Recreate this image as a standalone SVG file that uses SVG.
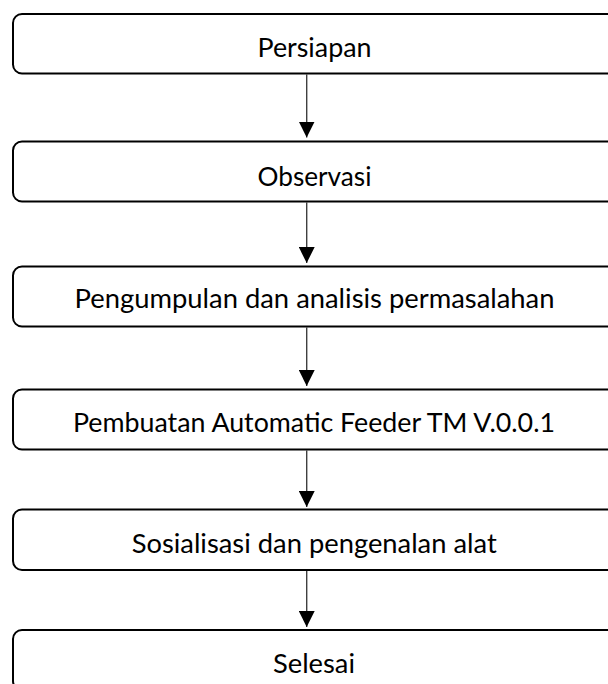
<svg xmlns="http://www.w3.org/2000/svg" width="608" height="684" viewBox="0 0 608 684">
  <defs>
    <marker id="arrow" viewBox="0 0 16 16" refX="16" refY="8" markerWidth="16" markerHeight="16" markerUnits="userSpaceOnUse" orient="auto">
      <path d="M0,0 L16,8 L0,16 Z" fill="#000"/>
    </marker>
  </defs>
  <style>
    .box { fill: #fff; stroke: #000; stroke-width: 2; }
    .label { font-family: "Lato", "Open Sans", "Liberation Sans", sans-serif; font-size: 26.5px; fill: #000; text-anchor: middle; }
    .conn { stroke: #404040; stroke-width: 1.4; fill: none; marker-end: url(#arrow); }
  </style>
  <rect width="608" height="684" fill="#fff"/>
  <g id="connectors">
    <line class="conn" x1="306.7" y1="74.5" x2="306.7" y2="137.5"/>
    <line class="conn" x1="306.7" y1="202.5" x2="306.7" y2="263"/>
    <line class="conn" x1="306.7" y1="327.5" x2="306.7" y2="386"/>
    <line class="conn" x1="306.7" y1="450.5" x2="306.7" y2="507"/>
    <line class="conn" x1="306.7" y1="571" x2="306.7" y2="627"/>
  </g>
  <g id="node-persiapan">
    <rect class="box" x="13" y="14" width="620" height="59.5" rx="9"/>
    <text class="label" x="314.5" y="57.3" textLength="114" lengthAdjust="spacingAndGlyphs">Persiapan</text>
  </g>
  <g id="node-observasi">
    <rect class="box" x="13" y="141.5" width="620" height="60" rx="9"/>
    <text class="label" x="314.5" y="185.5" textLength="114" lengthAdjust="spacingAndGlyphs">Observasi</text>
  </g>
  <g id="node-pengumpulan">
    <rect class="box" x="13" y="266.5" width="620" height="60" rx="9"/>
    <text class="label" x="314.5" y="307.5" textLength="480" lengthAdjust="spacingAndGlyphs">Pengumpulan dan analisis permasalahan</text>
  </g>
  <g id="node-pembuatan">
    <rect class="box" x="13" y="389.5" width="620" height="60" rx="9"/>
    <text class="label" x="314" y="431.7" textLength="482" lengthAdjust="spacingAndGlyphs">Pembuatan Automatic Feeder TM V.0.0.1</text>
  </g>
  <g id="node-sosialisasi">
    <rect class="box" x="13" y="509.5" width="620" height="60.5" rx="9"/>
    <text class="label" x="314.2" y="552.5" textLength="365" lengthAdjust="spacingAndGlyphs">Sosialisasi dan pengenalan alat</text>
  </g>
  <g id="node-selesai">
    <rect class="box" x="13" y="630" width="620" height="60" rx="9"/>
    <text class="label" x="314" y="672.5" textLength="82" lengthAdjust="spacingAndGlyphs">Selesai</text>
  </g>
</svg>
